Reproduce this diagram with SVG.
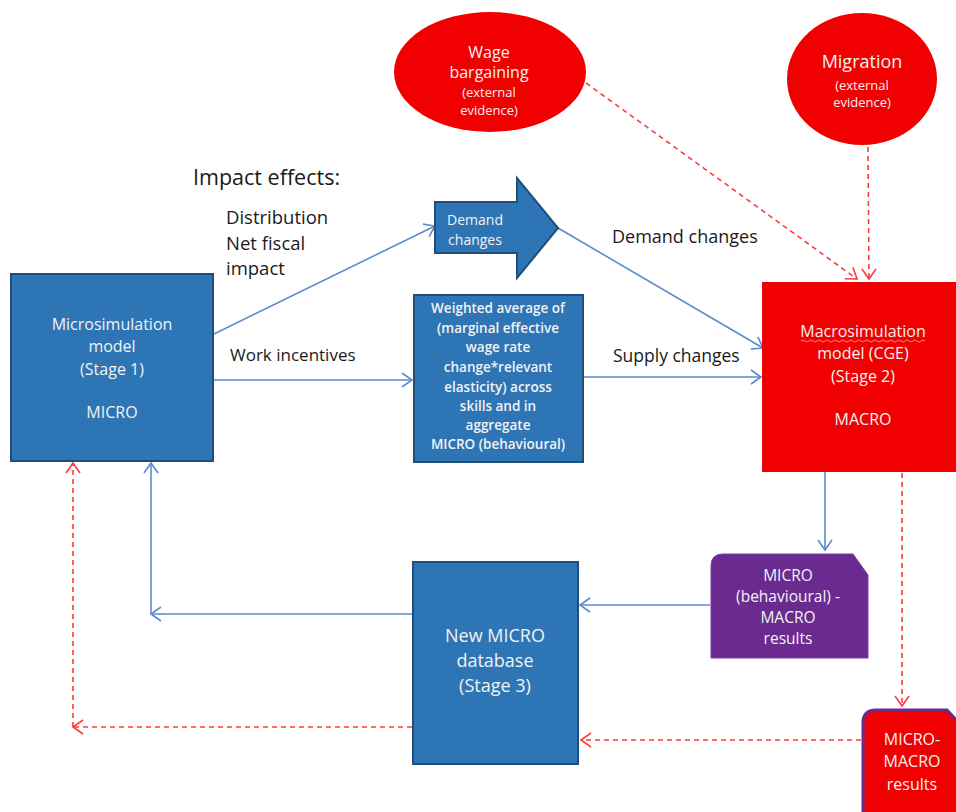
<svg xmlns="http://www.w3.org/2000/svg" width="956" height="812" viewBox="0 0 956 812">
<style>
text{font-family:"Open Sans","Liberation Sans",sans-serif}
.blue{fill:#2E75B6;stroke:#1F4E79;stroke-width:2}
.red{fill:#F00000}
.wt{fill:#F2F2F2;text-anchor:middle}
.bk{fill:#1a1a1a}
.bl{fill:none;stroke:#5A8AD0;stroke-width:1.6}
.rd{fill:none;stroke:#FF3B3B;stroke-width:1.6;stroke-dasharray:5 4}
</style>
<defs>
<marker id="ab" markerWidth="14" markerHeight="16" refX="11" refY="8" orient="auto" markerUnits="userSpaceOnUse">
<path d="M1,1 L11,8 L1,15" fill="none" stroke="#5A8AD0" stroke-width="1.6"/>
</marker>
<marker id="ar" markerWidth="14" markerHeight="16" refX="11" refY="8" orient="auto" markerUnits="userSpaceOnUse">
<path d="M1,1 L11,8 L1,15" fill="none" stroke="#FF3B3B" stroke-width="1.6"/>
</marker>
</defs>

<g id="connectors">
<line class="bl" x1="214" y1="334" x2="435" y2="226" marker-end="url(#ab)"/>
<line class="bl" x1="558" y1="228" x2="763" y2="348" marker-end="url(#ab)"/>
<line class="bl" x1="214" y1="380" x2="412" y2="380" marker-end="url(#ab)"/>
<line class="bl" x1="584" y1="377" x2="761" y2="377" marker-end="url(#ab)"/>
<line class="bl" x1="825" y1="472" x2="825" y2="550" marker-end="url(#ab)"/>
<line class="bl" x1="710" y1="605" x2="580" y2="605" marker-end="url(#ab)"/>
<line class="bl" x1="413" y1="614" x2="151" y2="614" marker-end="url(#ab)"/>
<line class="bl" x1="151" y1="614" x2="151" y2="463" marker-end="url(#ab)"/>
<line class="rd" x1="586" y1="83" x2="857" y2="279" marker-end="url(#ar)"/>
<line class="rd" x1="868" y1="147" x2="869" y2="279" marker-end="url(#ar)"/>
<line class="rd" x1="902" y1="473" x2="902" y2="706" marker-end="url(#ar)"/>
<line class="rd" x1="861" y1="740" x2="581" y2="740" marker-end="url(#ar)"/>
<line class="rd" x1="412" y1="727" x2="73" y2="727" marker-end="url(#ar)"/>
<line class="rd" x1="73" y1="727" x2="73" y2="463" marker-end="url(#ar)"/>
</g>

<g id="labels">
<text class="bk" x="193" y="185" font-size="21.5">Impact effects:</text>
<text class="bk" x="226" y="224" font-size="18.5">Distribution</text>
<text class="bk" x="226" y="250" font-size="18.5">Net fiscal</text>
<text class="bk" x="226" y="275" font-size="18.5">impact</text>
<text class="bk" x="230" y="361" font-size="17">Work incentives</text>
<text class="bk" x="612" y="243" font-size="18">Demand changes</text>
<text class="bk" x="613" y="362" font-size="17.5">Supply changes</text>
</g>

<g id="wage">
<ellipse class="red" cx="490" cy="72" rx="96" ry="60"/>
<text class="wt" x="489" y="58" font-size="16">Wage</text>
<text class="wt" x="489" y="78" font-size="16">bargaining</text>
<text class="wt" x="489" y="97" font-size="13">(external</text>
<text class="wt" x="489" y="115" font-size="13">evidence)</text>
</g>

<g id="migration">
<ellipse class="red" cx="862" cy="79" rx="75" ry="66"/>
<text class="wt" x="862" y="68" font-size="18">Migration</text>
<text class="wt" x="862" y="90" font-size="13">(external</text>
<text class="wt" x="862" y="107" font-size="13">evidence)</text>
</g>

<g id="micro">
<rect class="blue" x="11" y="274" width="202" height="187"/>
<text class="wt" x="112" y="330" font-size="16">Microsimulation</text>
<text class="wt" x="112" y="352" font-size="16">model</text>
<text class="wt" x="112" y="375" font-size="16">(Stage 1)</text>
<text class="wt" x="112" y="418" font-size="16">MICRO</text>
</g>

<g id="demand">
<polygon class="blue" points="435,202 517,202 517,178 558,228 517,278 517,253 435,253"/>
<text class="wt" x="475" y="225" font-size="14">Demand</text>
<text class="wt" x="475" y="245" font-size="14">changes</text>
</g>

<g id="weighted">
<rect class="blue" x="414" y="295" width="169" height="167"/>
<g font-size="13.5" font-weight="600">
<text class="wt" x="498" y="313">Weighted average of</text>
<text class="wt" x="498" y="333">(marginal effective</text>
<text class="wt" x="498" y="352">wage rate</text>
<text class="wt" x="498" y="372">change*relevant</text>
<text class="wt" x="498" y="392">elasticity) across</text>
<text class="wt" x="498" y="411">skills and in</text>
<text class="wt" x="498" y="430">aggregate</text>
<text class="wt" x="498" y="449">MICRO (behavioural)</text>
</g>
</g>

<g id="macro">
<rect class="red" x="762" y="282" width="194" height="190"/>
<text class="wt" x="863" y="337" font-size="16">Macrosimulation</text>
<path d="M801,341 q2,-2 4,0 t4,0 t4,0 t4,0 t4,0 t4,0 t4,0 t4,0 t4,0 t4,0 t4,0 t4,0 t4,0 t4,0 t4,0 t4,0 t4,0 t4,0 t4,0 t4,0 t4,0 t4,0 t4,0 t4,0 t4,0 t4,0 t4,0 t4,0 t4,0 t4,0 t4,0" fill="none" stroke="#FF8080" stroke-width="1"/>
<text class="wt" x="863" y="359" font-size="16">model (CGE)</text>
<text class="wt" x="863" y="382" font-size="16">(Stage 2)</text>
<text class="wt" x="863" y="425" font-size="16">MACRO</text>
</g>

<g id="results">
<path d="M723,554 L853,554 L868,575 L868,658 L711,658 L711,566 Q711,554 723,554 Z" fill="#6A2A90" stroke="#7A3DA6" stroke-width="1"/>
<text class="wt" x="788" y="581" font-size="15.5">MICRO</text>
<text class="wt" x="788" y="602" font-size="15.5">(behavioural) -</text>
<text class="wt" x="788" y="623" font-size="15.5">MACRO</text>
<text class="wt" x="788" y="644" font-size="15.5">results</text>
</g>

<g id="newmicro">
<rect class="blue" x="413" y="562" width="165" height="202"/>
<text class="wt" x="495" y="642" font-size="18">New MICRO</text>
<text class="wt" x="495" y="667" font-size="18">database</text>
<text class="wt" x="495" y="692" font-size="18">(Stage 3)</text>
</g>

<g id="micromacro">
<path d="M876,710 L947,710 L958,722 L958,814 L863,814 L863,723 Q863,710 876,710 Z" fill="#F00000" stroke="#6A2A90" stroke-width="3"/>
<text class="wt" x="912" y="745" font-size="16">MICRO-</text>
<text class="wt" x="912" y="767" font-size="16">MACRO</text>
<text class="wt" x="912" y="790" font-size="16">results</text>
</g>
</svg>
